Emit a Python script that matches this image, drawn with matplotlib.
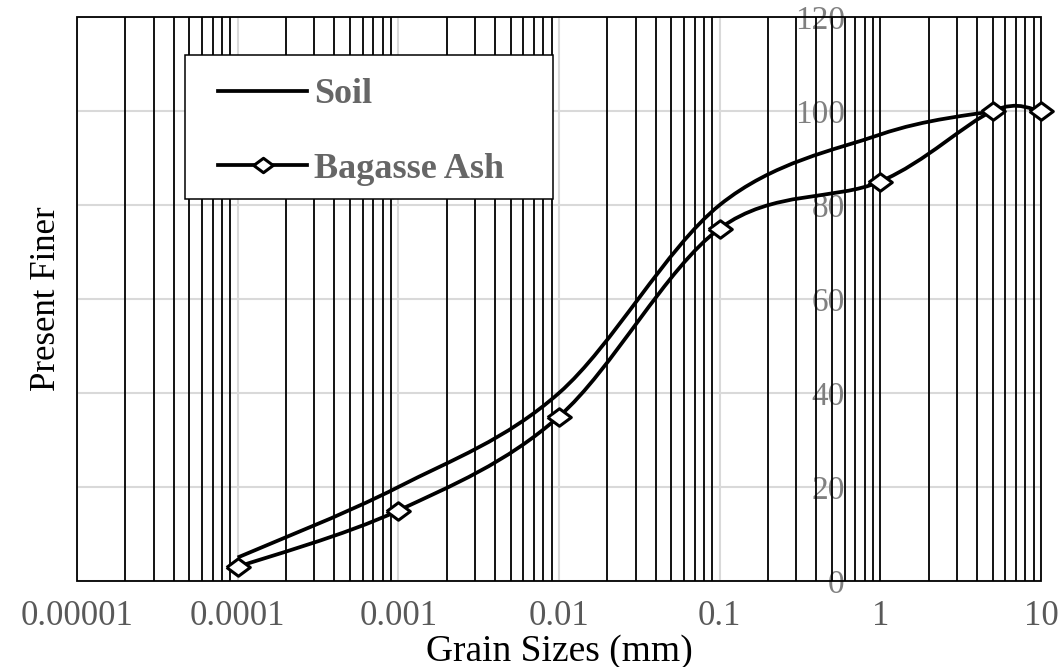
import numpy as np
import matplotlib
matplotlib.use("Agg")
import matplotlib.pyplot as plt
from matplotlib.path import Path
from matplotlib.patches import PathPatch, Rectangle
from matplotlib.lines import Line2D
from matplotlib.ticker import LogLocator, NullFormatter, FixedLocator

# data
size_mm = [0.0001, 0.001, 0.01, 0.1, 1, 5, 10]
ash_finer = [3, 15, 35, 75, 85, 100, 100]
soil_size_mm = [0.0001, 0.001, 0.01, 0.1, 1, 5]
soil_finer = [5, 20, 40, 80, 95, 100]

x_ticks = [0.00001, 0.0001, 0.001, 0.01, 0.1, 1, 10]
x_tick_labels = ["0.00001", "0.0001", "0.001", "0.01", "0.1", "1", "10"]
y_ticks = [0, 20, 40, 60, 80, 100, 120]
y_axis_cross = 0.6  # value axis crosses the x axis here (Excel style)

plt.rcParams["font.family"] = ["Liberation Serif", "DejaVu Serif"]


def smooth_path(xs, ys):
    """Excel-like smoothed line: Catmull-Rom Bezier segments in log-x space."""
    lx = np.log10(np.asarray(xs, float))
    y = np.asarray(ys, float)
    n = len(lx)
    verts = [(10 ** lx[0], y[0])]
    codes = [Path.MOVETO]
    for i in range(n - 1):
        i0 = max(i - 1, 0)
        i3 = min(i + 2, n - 1)
        c1 = (lx[i] + (lx[i + 1] - lx[i0]) / 6, y[i] + (y[i + 1] - y[i0]) / 6)
        c2 = (lx[i + 1] - (lx[i3] - lx[i]) / 6, y[i + 1] - (y[i3] - y[i]) / 6)
        verts += [(10 ** c1[0], c1[1]), (10 ** c2[0], c2[1]), (10 ** lx[i + 1], y[i + 1])]
        codes += [Path.CURVE4] * 3
    return Path(verts, codes)


W, H = 1062, 667
fig = plt.figure(figsize=(W / 100, H / 100), dpi=100)
ax = fig.add_axes([77 / W, (H - 581) / H, 964 / W, 564 / H])

ax.set_xscale("log")
ax.set_xlim(x_ticks[0], x_ticks[-1])
ax.set_ylim(y_ticks[0], y_ticks[-1])

ax.xaxis.set_major_locator(FixedLocator(x_ticks))
ax.set_xticklabels(x_tick_labels)
ax.xaxis.set_minor_locator(LogLocator(base=10, subs=range(2, 10), numticks=50))
ax.xaxis.set_minor_formatter(NullFormatter())
ax.set_yticks(y_ticks)

# grid: grey decades / values, black minor lines
ax.grid(which="major", axis="both", color="#d9d9d9", linewidth=1.5)
ax.grid(which="minor", axis="x", color="black", linewidth=1.3)
for tick, loc in zip(ax.xaxis.get_major_ticks(), x_ticks):
    if loc == 1:
        tick.gridline.set_color("black")
        tick.gridline.set_linewidth(1.3)

ax.set_axisbelow(True)
ax.yaxis.set_zorder(0.4)

ax.tick_params(axis="both", which="both", length=0)
ax.tick_params(axis="x", labelsize=25, labelcolor="#595959", pad=14)
ax.tick_params(axis="y", labelsize=24, labelcolor="#808080", pad=0)

# value axis sits at x = 0.6, frame drawn separately
ax.spines["left"].set_position(("data", y_axis_cross))
for s in ax.spines.values():
    s.set_visible(False)
ax.add_patch(Rectangle((0, 0), 1, 1, transform=ax.transAxes, fill=False,
                       edgecolor="black", linewidth=1.3, zorder=6, clip_on=False))

# curves
ax.add_patch(PathPatch(smooth_path(soil_size_mm, soil_finer), fill=False,
                       edgecolor="black", linewidth=2.7, zorder=3))
ax.add_patch(PathPatch(smooth_path(size_mm, ash_finer), fill=False,
                       edgecolor="black", linewidth=2.7, zorder=3))
diamond = [(-1.35, 0), (0, 1), (1.35, 0), (0, -1), (-1.35, 0)]
ax.plot(size_mm, ash_finer, linestyle="none", marker=diamond, markersize=17,
        markerfacecolor="white", markeredgecolor="black", markeredgewidth=2.2,
        zorder=7, clip_on=False)

# axis titles
ax.set_xlabel("Grain Sizes (mm)", fontsize=27, color="black", va="baseline")
ax.xaxis.set_label_coords(0.5, (581 - 661) / 564)
ax.set_ylabel("Present Finer", fontsize=25, color="black", va="center")
ax.yaxis.set_label_coords((47 - 77) / 964, 0.5)

# legend box + entries
ax.add_patch(Rectangle((0.112, 0.6773), 0.3817, 0.2553, transform=ax.transAxes,
                       facecolor="white", edgecolor="black", linewidth=1.1, zorder=5))
handles = [
    Line2D([], [], color="black", linewidth=2.7),
    Line2D([], [], color="black", linewidth=2.7, marker=diamond, markersize=14,
           markerfacecolor="white", markeredgecolor="black", markeredgewidth=2.2),
]
leg = ax.legend(handles, ["Soil", "Bagasse Ash"], loc="upper left",
                bbox_to_anchor=(0.1463, 0.8918), frameon=False, borderpad=0,
                borderaxespad=0, handlelength=2.47, handletextpad=0.19,
                labelspacing=1.14, numpoints=1,
                prop={"family": "Liberation Serif", "weight": "bold", "size": 26})
for t in leg.get_texts():
    t.set_color("#666666")
leg.set_zorder(7)

fig.savefig("out.png", dpi=100)
